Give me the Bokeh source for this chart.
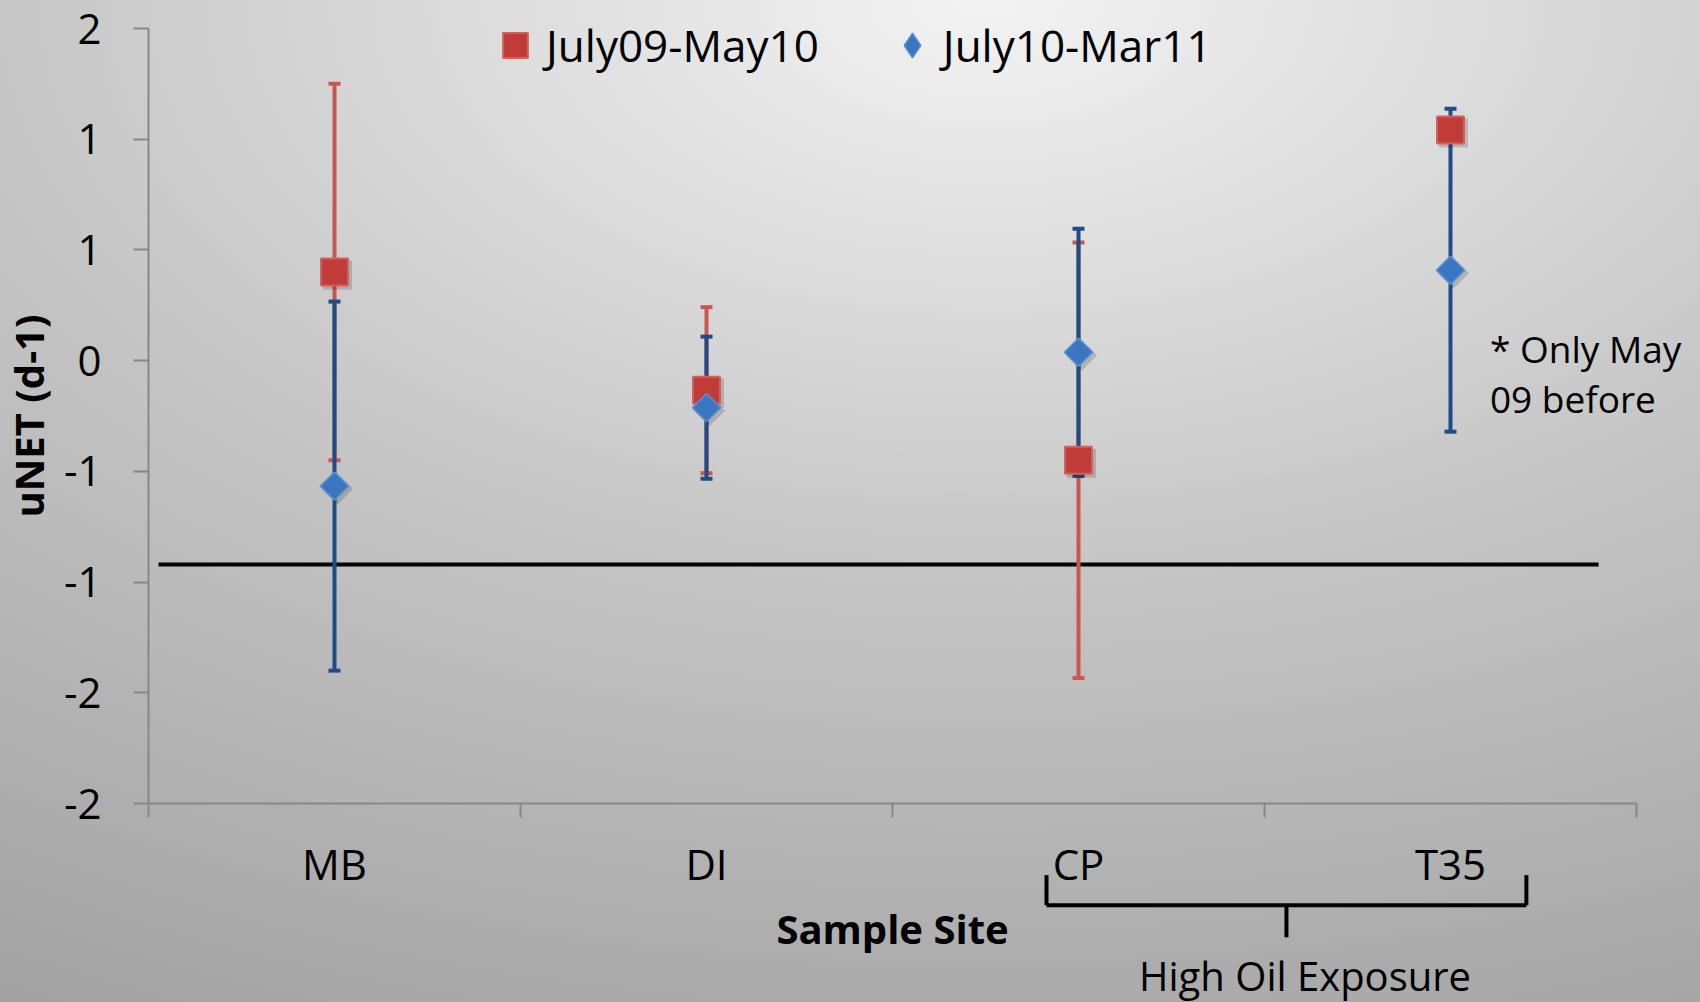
from bokeh.plotting import figure
from bokeh.models import (ColumnDataSource, Whisker, TeeHead, FixedTicker, Legend, LegendItem,
                          Label, Arrow, Range1d)
from bokeh.embed import file_html
from bokeh.resources import INLINE
import numpy as np

# ---------------- data ----------------
sites = ["MB", "DI", "CP", "T35"]
red_label = "July09-May10"
blue_label = "July10-Mar11"
red_mean = [0.48, -0.16, -0.54, 1.25]
red_err = [1.02, 0.45, 1.18, np.nan]      # no bar shown for T35
blue_mean = [-0.68, -0.255, 0.045, 0.49]
blue_err = [1.00, 0.385, 0.67, 0.875]
y_ticks = [-2.4, -1.8, -1.2, -0.6, 0, 0.6, 1.2, 1.8]
y_tick_labels = ["-2", "-2", "-1", "-1", "0", "1", "1", "2"]
y_title = "uNET (d-1)"
x_title = "Sample Site"
threshold = -1.105
threshold_span = (0.027, 3.898)
note_lines = ["* Only May", "09 before"]
group_label = "High Oil Exposure"
group_sites = ("CP", "T35")

FONT = "Open Sans"
W, H = 1700, 1002
# plot-area placement (pixels inside the figure)
FL, FR, FT, FB = 148, 1636, 28, 803
y_lo, y_hi = y_ticks[0], y_ticks[-1]
n = len(sites)
px_x = (FR - FL) / n
px_y = (FB - FT) / (y_hi - y_lo)

x_centers = [i + 0.5 for i in range(n)]

p = figure(width=W, height=H, output_backend="svg", toolbar_location=None,
           x_range=Range1d(-FL / px_x, n + (W - FR) / px_x),
           y_range=Range1d(y_lo - (H - FB) / px_y, y_hi + FT / px_y),
           min_border=0, min_border_left=0, min_border_right=0,
           min_border_top=0, min_border_bottom=0)
p.styles = {"background-image":
            "radial-gradient(ellipse 130% 125% at 58% 0%, #f3f3f3 0%, #c6c6c6 45%, #9b9b9b 100%)"}
p.border_fill_alpha = 0
p.background_fill_alpha = 0
p.outline_line_color = None
p.xgrid.visible = False
p.ygrid.visible = False

axis_col = "#878787"
# y axis
p.yaxis.fixed_location = 0
p.yaxis.bounds = (y_lo, y_hi)
p.yaxis.ticker = FixedTicker(ticks=y_ticks)
p.yaxis.major_label_overrides = {t: l for t, l in zip(y_ticks, y_tick_labels)}
p.yaxis.minor_tick_line_color = None
p.yaxis.major_tick_out = 15
p.yaxis.major_tick_in = 0
p.yaxis.major_label_standoff = 32
p.yaxis.axis_line_color = axis_col
p.yaxis.axis_line_width = 2
p.yaxis.major_tick_line_color = axis_col
p.yaxis.major_tick_line_width = 2
p.yaxis.major_label_text_font = FONT
p.yaxis.major_label_text_font_size = "42px"
p.yaxis.major_label_text_color = "black"

# y title placed at the far left, centred on the plot area
p.add_layout(Label(x=(28 - FL) / px_x, y=(y_lo + y_hi) / 2, text=y_title, angle=np.pi / 2,
                   text_font=FONT, text_font_size="40px", text_font_style="bold",
                   text_align="center", text_baseline="middle", text_color="black"))

# x axis
p.xaxis.fixed_location = y_lo
p.xaxis.bounds = (0, n)
p.xaxis.ticker = FixedTicker(ticks=x_centers, minor_ticks=list(range(n + 1)))
p.xaxis.major_label_overrides = {x: s for x, s in zip(x_centers, sites)}
p.xaxis.major_tick_out = 0
p.xaxis.major_tick_in = 0
p.xaxis.minor_tick_out = 14
p.xaxis.minor_tick_in = 0
p.xaxis.minor_tick_line_color = axis_col
p.xaxis.minor_tick_line_width = 2
p.xaxis.axis_line_color = axis_col
p.xaxis.axis_line_width = 2
p.xaxis.major_label_standoff = 17
p.xaxis.major_label_text_font = FONT
p.xaxis.major_label_text_font_size = "42px"
p.xaxis.major_label_text_color = "black"
p.xaxis.axis_label = x_title
p.xaxis.axis_label_text_font = FONT
p.xaxis.axis_label_text_font_size = "40px"
p.xaxis.axis_label_text_font_style = "bold"
p.xaxis.axis_label_text_color = "black"
p.xaxis.axis_label_standoff = 6

# threshold line
p.segment(x0=[threshold_span[0]], y0=[threshold], x1=[threshold_span[1]], y1=[threshold],
          line_color="black", line_width=4, level="underlay")

# error bars
red_idx = [i for i, e in enumerate(red_err) if not np.isnan(e)]
red_src_err = ColumnDataSource(dict(
    x=[x_centers[i] for i in red_idx],
    upper=[red_mean[i] + red_err[i] for i in red_idx],
    lower=[red_mean[i] - red_err[i] for i in red_idx]))
blue_src_err = ColumnDataSource(dict(
    x=x_centers,
    upper=[m + e for m, e in zip(blue_mean, blue_err)],
    lower=[m - e for m, e in zip(blue_mean, blue_err)]))

red_bar = "#cc5452"
blue_bar = "#1f4c86"
p.add_layout(Whisker(source=red_src_err, base="x", upper="upper", lower="lower",
                     line_color=red_bar, line_width=4,
                     upper_head=TeeHead(size=12, line_color=red_bar, line_width=4),
                     lower_head=TeeHead(size=12, line_color=red_bar, line_width=4)))
p.add_layout(Whisker(source=blue_src_err, base="x", upper="upper", lower="lower",
                     line_color=blue_bar, line_width=4,
                     upper_head=TeeHead(size=12, line_color=blue_bar, line_width=4),
                     lower_head=TeeHead(size=12, line_color=blue_bar, line_width=4)))

# soft drop shadows under the markers (3 px right / down)
sdx, sdy = 3 / px_x, -3 / px_y
p.scatter(x=[x + sdx for x in x_centers], y=[y + sdy for y in red_mean], marker="square",
          size=29, fill_color="black", fill_alpha=0.16, line_color=None)
p.scatter(x=[x + sdx for x in x_centers], y=[y + sdy for y in blue_mean], marker="square",
          angle=np.pi / 4, size=22, fill_color="black", fill_alpha=0.16, line_color=None)

# markers
red_fill, red_line = "#c13c38", "#d2615e"
blue_fill, blue_line = "#3b76c0", "#5b8fd2"
r_red = p.scatter(x=x_centers, y=red_mean, marker="square", size=27,
                  fill_color=red_fill, line_color=red_line, line_width=2)
r_blue = p.scatter(x=x_centers, y=blue_mean, marker="square", angle=np.pi / 4, size=20,
                   fill_color=blue_fill, line_color=blue_line, line_width=1.5)
# legend-only diamond glyph (its single point lies off the chart: NaN)
r_blue_leg = p.scatter(x=[np.nan], y=[np.nan], marker="diamond", size=30,
                       fill_color=blue_fill, line_color=blue_line, line_width=1.5)

legend = Legend(items=[LegendItem(label=red_label, renderers=[r_red]),
                       LegendItem(label=blue_label, renderers=[r_blue_leg])],
                orientation="horizontal", location=(484, 926),
                glyph_width=62, glyph_height=62, label_standoff=0, spacing=62,
                padding=0, margin=0, border_line_alpha=0, background_fill_alpha=0,
                label_text_font=FONT, label_text_font_size="44px", label_text_color="black")
p.add_layout(legend)

# note text
p.add_layout(Label(x=3.606, y=0.065, text=note_lines[0], text_font=FONT, text_font_size="37px",
                   text_baseline="alphabetic", text_color="black"))
p.add_layout(Label(x=3.606, y=-0.205, text=note_lines[1], text_font=FONT, text_font_size="37px",
                   text_baseline="alphabetic", text_color="black"))

# bracket for high oil exposure group
gx0 = x_centers[sites.index(group_sites[0])] - 0.086
gx1 = x_centers[sites.index(group_sites[1])] + 0.204
gmid = (gx0 + gx1) / 2
y_top, y_bar, y_stem = -2.788, -2.951, -3.125
for xs, ys, xe, ye in [(gx0, y_top, gx0, y_bar), (gx0, y_bar, gx1, y_bar),
                       (gx1, y_bar, gx1, y_top), (gmid, y_bar, gmid, y_stem)]:
    p.add_layout(Arrow(x_start=xs, y_start=ys, x_end=xe, y_end=ye, end=None,
                       line_color="black", line_width=4))
p.add_layout(Label(x=gmid + 0.05, y=-3.33, text=group_label, text_font=FONT,
                   text_font_size="40px", text_align="center", text_baseline="alphabetic",
                   text_color="black"))

open("out.html", "w").write(file_html(p, INLINE))
